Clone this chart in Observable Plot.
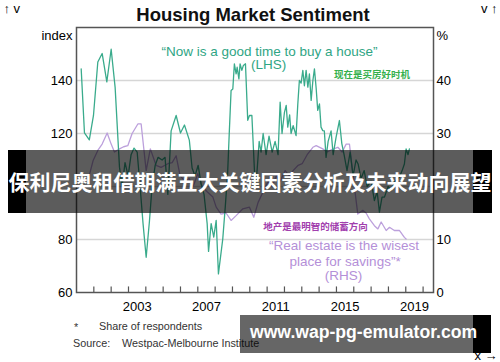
<!DOCTYPE html>
<html><head><meta charset="utf-8">
<script src="https://cdn.jsdelivr.net/npm/d3@7"></script>
<script src="https://cdn.jsdelivr.net/npm/@observablehq/plot@0.6"></script>
<style>
body{margin:0;width:500px;height:362px;overflow:hidden;background:#fff;font-family:"Liberation Sans",Arial,sans-serif;}
#wrap{position:relative;width:500px;height:362px;}
#chart{position:absolute;left:0;top:0;}
.abs{position:absolute;white-space:nowrap;line-height:1;}
</style></head><body><div id="wrap">
<div id="chart"></div>
<div class="abs" id="title" style="left:3px;width:500px;top:6px;text-align:center;font-size:18.5px;font-weight:bold;color:#111;">Housing Market Sentiment</div>
<div class="abs" style="left:74px;top:322px;font-size:10.8px;color:#333;">*</div>
<div class="abs" style="left:99px;top:321px;font-size:10.8px;color:#333;">Share of respondents</div>
<div class="abs" style="left:73px;top:337.6px;font-size:10.8px;color:#333;">Source:</div>
<div class="abs" style="left:122px;top:337.6px;font-size:10.8px;color:#333;">Westpac-Melbourne Institute</div>
<div class="abs" style="left:8px;top:150px;width:18px;height:63px;background:#000;"></div>
<div class="abs" style="left:26px;top:150px;width:447px;height:63px;background:rgba(0,0,0,0.64);"></div>
<div class="abs" style="left:473px;top:150px;width:19px;height:63px;background:#000;"></div>
<div class="abs" style="left:0;width:500px;top:171px;text-align:center;font-family:'Noto Sans CJK SC',sans-serif;font-size:21px;font-weight:bold;color:#fff;">保利尼奥租借期满五大关键因素分析及未来动向展望</div>
<div class="abs" style="left:240px;top:315px;width:233px;height:38px;background:rgba(0,0,0,0.6);"></div>
<div class="abs" style="left:473px;top:315px;width:18px;height:38px;background:#000;"></div>
<div class="abs" style="left:250px;top:324px;font-size:17.6px;font-weight:bold;color:#fff;">www.wap-pg-emulator.com</div>
</div>
<script>
// "Now is a good time to buy a house" index (LHS)
const greenYears = [2000.27,2000.46,2000.74,2000.98,2001.23,2001.48,2001.75,2002.00,2002.23,2002.48,2002.63,2002.80,2002.98,2003.15,2003.32,2003.50,2003.67,2003.84,2004.02,2004.21,2004.36,2004.54,2004.71,2004.94,2005.11,2005.27,2005.46,2005.75,2006.00,2006.23,2006.51,2006.67,2006.84,2007.02,2007.19,2007.36,2007.54,2007.62,2007.77,2007.92,2008.06,2008.19,2008.44,2008.59,2008.72,2008.82,2008.92,2009.02,2009.11,2009.21,2009.27,2009.37,2009.44,2009.54,2009.63,2009.75,2009.88,2009.98,2010.12,2010.21,2010.31,2010.42,2010.54,2010.65,2010.77,2010.94,2011.11,2011.29,2011.46,2011.63,2011.75,2011.86,2012.00,2012.10,2012.19,2012.30,2012.38,2012.50,2012.67,2012.77,2012.86,2012.96,2013.06,2013.15,2013.25,2013.35,2013.44,2013.54,2013.64,2013.73,2013.83,2013.92,2014.02,2014.11,2014.21,2014.30,2014.40,2014.52,2014.69,2014.81,2014.98,2015.17,2015.31,2015.44,2015.61,2015.79,2015.96,2016.13,2016.25,2016.42,2016.60,2016.77,2017.00,2017.19,2017.35,2017.48,2017.63,2017.77,2017.98,2018.15,2018.38,2018.63,2018.79,2018.92,2019.02,2019.13,2019.21];
const greenValues = [144.4,120.2,117.6,126.8,147,150.2,139.5,151.8,137.3,107.3,100,109,104,112,114.5,113,100,86,73.3,87,100,108,111,110,111,97,121,126.8,120.2,123.2,117.5,107,104,108,101,97,86,75.5,86,80.9,87.2,67,80.2,92.8,105,121,136.2,136.8,146.3,142.5,145,140.6,146.3,143.8,145.7,146.3,125,126.8,126.8,114.2,100,106,117,113,120,112,119,113,117,112,131.8,120,128,130.6,122.4,127,120,123,119.2,131.1,140,139,143.8,138,143.8,137.5,142.5,132.5,140,144.4,137,128.7,131.2,122.4,121.1,121,111,117,121,112,118.6,124.9,116.2,112,106,113,104,110,108.5,103,106,100,102,94.7,98,90.3,96,96,100,98.5,102,103.5,106,108.5,114.2,112,114.2];
// "Real estate is the wisest place for savings" share, % (RHS)
const purpleYears = [2000.73,2000.96,2001.23,2001.48,2001.77,2002.00,2002.19,2002.48,2002.72,2002.96,2003.21,2003.54,2003.73,2004.02,2004.26,2004.59,2004.88,2005.27,2005.52,2005.75,2005.98,2006.27,2006.50,2006.73,2007.00,2007.25,2007.54,2007.87,2008.06,2008.34,2008.63,2008.92,2009.21,2009.60,2009.98,2010.23,2010.48,2010.77,2011.06,2011.29,2011.52,2011.75,2012.04,2012.27,2012.50,2012.79,2013.02,2013.31,2013.64,2013.83,2014.21,2014.46,2014.75,2015.08,2015.33,2015.56,2015.75,2015.96,2016.23,2016.52,2016.71,2016.90,2017.19,2017.39,2017.58,2017.87,2018.06,2018.34,2018.63,2018.92,2019.02];
const purpleValues = [22,24.9,26.8,28,30.1,28,26.5,27.1,27.5,27.7,30,31.8,31.8,23,27.1,24,23.6,24.3,24.5,25.8,22,21,21.5,20,22.4,20,19,18,16.1,14.8,15,13.6,14.5,15.8,16.1,14.2,17,19,21,20,22,21,23,22,23,24,24.3,26,27.4,27.7,27.1,26.5,27,27.4,26.5,28,28,22,14.8,15.5,15,13.9,12.6,12,13.3,11.7,12.3,11.7,11.7,10.4,10.1];
// visible axis labels (the 100 / 20% labels sit under the banner in the reference)
const leftTicks = [60, 80, 120, 140];
const yearTicks = [2001,2002,2003,2004,2005,2006,2007,2008,2009,2010,2011,2012,2013,2014,2015,2016,2017,2018,2019,2020];
const yearLabels = [2003, 2007, 2011, 2015, 2019];
const gridValues = [80, 100, 120, 140];

const green = greenYears.map((x, i) => ({x, v: greenValues[i]}));
const purple = purpleYears.map((x, i) => ({x, v: purpleValues[i]}));
const toLeft = p => 60 + 2 * p; // RHS 0–50 % shares the LHS 60–160 range

const chart = Plot.plot({
  width: 500, height: 362,
  marginTop: 27, marginBottom: 70, marginLeft: 76, marginRight: 67,
  x: {domain: [2000, 2020.6]},
  y: {domain: [60, 160]},
  style: {fontFamily: "'Liberation Sans', Arial, sans-serif", fontSize: "13px", background: "transparent", color: "#000"},
  marks: [
    Plot.ruleY(gridValues, {stroke: "#d6d6d6", strokeWidth: 1.5}),
    Plot.line(purple, {x: "x", y: d => toLeft(d.v), stroke: "#bca0dc", strokeWidth: 1.3}),
    Plot.line(green, {x: "x", y: "v", stroke: "#3aab8c", strokeWidth: 1.3}),
    Plot.ruleX(yearTicks, {y1: 60, y2: 62.1, stroke: "#555", strokeWidth: 1.2}),
    Plot.frame({stroke: "#555", strokeWidth: 1.5}),
    Plot.axisY(leftTicks, {anchor: "left", tickSize: 0, tickPadding: 4, fontSize: 13}),
    Plot.axisY(leftTicks, {anchor: "right", tickSize: 0, tickPadding: 3, fontSize: 13, tickFormat: d => String((d - 60) / 2)}),
    Plot.axisX(yearLabels.map(y => y + 0.5), {anchor: "bottom", tickSize: 0, tickPadding: 9, fontSize: 13, tickFormat: d => String(Math.floor(d))}),
    Plot.text(["index"], {frameAnchor: "top-left", dx: -4, dy: 3, textAnchor: "end", lineAnchor: "top", fontSize: 13}),
    Plot.text(["%"], {frameAnchor: "top-right", dx: 3, dy: 3, textAnchor: "start", lineAnchor: "top", fontSize: 13}),
    Plot.text(["\u201CNow is a good time to buy a house\u201D"], {x: 2011.14, y: 149.4, lineAnchor: "bottom", fill: "#2fa584", fontSize: 13.5}),
    Plot.text(["(LHS)"], {x: 2011.08, y: 144.2, lineAnchor: "bottom", fill: "#2fa584", fontSize: 13.5}),
    Plot.text(["现在是买房好时机"], {x: 2014.86, y: 140.95, lineAnchor: "bottom", textAnchor: "start", fill: "#35b04c", fontSize: 9.5, fontWeight: "bold", fontFamily: "'Noto Sans CJK SC', sans-serif"}),
    Plot.text(["地产是最明智的储蓄方向"], {x: 2010.77, y: 83.4, lineAnchor: "bottom", textAnchor: "start", fill: "#a23fae", fontSize: 9.5, fontWeight: "bold", fontFamily: "'Noto Sans CJK SC', sans-serif"}),
    Plot.text(["\u201CReal estate is the wisest"], {x: 2015.44, y: 76.0, lineAnchor: "bottom", fill: "#b48fd8", fontSize: 13.5}),
    Plot.text(["place for savings\u201D*"], {x: 2015.5, y: 70.0, lineAnchor: "bottom", fill: "#b48fd8", fontSize: 13.5}),
    Plot.text(["(RHS)"], {x: 2015.41, y: 64.7, lineAnchor: "bottom", fill: "#b48fd8", fontSize: 13.5})
  ]
});
document.getElementById("chart").appendChild(chart);
</script>
</body></html>
